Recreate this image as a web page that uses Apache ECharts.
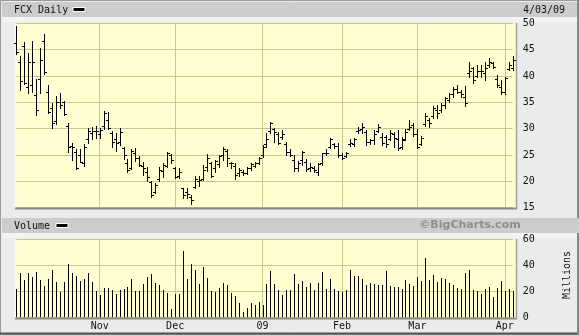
<!DOCTYPE html>
<html><head><meta charset="utf-8">
<script src="https://cdn.jsdelivr.net/npm/echarts@6/dist/echarts.min.js"></script>
<style>html,body{margin:0;padding:0;background:#ebebeb}#c{width:579px;height:335px}</style>
</head><body><div id="c"></div>
<script>
// Trading days shown (Oct 3, 2008 – Apr 3, 2009)
const tradingDays = {
  '2008-10': [3,6,7,8,9,10,13,14,15,16,17,20,21,22,23,24,27,28,29,30,31],
  '2008-11': [3,4,5,6,7,10,11,12,13,14,17,18,19,20,21,24,25,26,28],
  '2008-12': [1,2,3,4,5,8,9,10,11,12,15,16,17,18,19,22,23,24,26,29,30,31],
  '2009-01': [2,5,6,7,8,9,12,13,14,15,16,20,21,22,23,26,27,28,29,30],
  '2009-02': [2,3,4,5,6,9,10,11,12,13,17,18,19,20,23,24,25,26,27],
  '2009-03': [2,3,4,5,6,9,10,11,12,13,16,17,18,19,20,23,24,25,26,27,30,31],
  '2009-04': [1,2,3]
};
const monthLabels = {'2008-11':'Nov','2008-12':'Dec','2009-01':'09','2009-02':'Feb','2009-03':'Mar','2009-04':'Apr'};

const openP  = [46.3,42.7,45.7,38.0,38.3,36.4,39.4,46.7,37.0,34.0,31.5,35.0,35.0,30.5,26.8,25.5,25.0,23.5,28.0,29.1,29.5,
                28.9,30.5,31.6,29.1,28.0,27.5,26.3,23.5,22.5,25.3,24.5,23.0,21.8,19.8,18.0,20.5,22.0,23.0,25.0,
                22.5,21.0,18.7,18.0,17.1,18.9,20.0,20.5,22.8,23.5,22.5,23.3,25.0,25.8,23.5,23.0,21.5,21.8,21.5,22.5,23.0,23.5,
                25.0,27.0,29.5,30.0,29.0,28.5,27.0,25.5,24.1,22.5,24.0,23.7,22.5,22.5,21.8,23.5,25.3,26.5,27.0,26.8,
                25.0,24.8,27.0,27.0,29.5,30.0,29.4,27.5,27.9,29.5,28.5,28.5,28.0,29.0,28.0,26.5,28.0,30.0,30.7,
                29.0,27.0,30.8,31.7,32.4,33.5,33.5,34.5,35.5,36.5,37.5,37.0,36.0,40.5,41.5,40.0,41.0,40.5,42.0,42.5,39.5,38.0,
                37.0,41.3,41.5];
const highP  = [49.5,43.7,46.4,44.3,46.6,39.4,45.3,47.9,38.2,34.8,36.2,36.7,35.3,31.1,27.2,26.1,26.1,27.0,30.1,30.4,30.5,
                30.1,33.4,33.1,29.6,29.1,30.1,26.6,24.2,26.1,26.3,24.8,23.7,22.8,20.1,19.6,22.8,23.5,25.5,25.1,
                22.8,22.5,18.8,18.7,17.4,21.0,21.0,23.1,25.2,23.7,24.1,25.0,26.6,26.1,23.7,23.4,22.5,22.2,22.8,23.4,23.7,24.7,
                26.9,29.1,31.3,30.1,29.3,29.8,27.5,26.1,25.0,23.9,25.8,24.2,23.4,22.9,23.5,25.4,26.1,28.3,27.2,27.2,
                25.4,25.6,28.0,28.2,30.4,31.1,29.8,28.0,29.8,30.9,29.1,28.8,29.8,29.4,29.8,28.4,29.9,31.7,31.1,
                29.9,28.6,32.9,32.0,34.3,34.5,34.8,36.1,36.7,37.9,38.3,37.3,38.1,42.6,41.8,42.1,42.0,42.7,43.4,42.7,40.2,39.2,
                39.9,42.7,43.7];
const lowP   = [44.2,37.3,38.4,36.8,37.0,32.6,36.7,40.4,33.0,30.1,30.9,33.9,32.6,25.6,24.1,22.3,23.7,22.9,27.2,28.0,28.2,
                28.2,29.9,29.9,26.6,25.8,26.9,24.2,21.8,22.3,23.9,22.9,21.2,20.1,17.1,17.7,20.1,20.9,22.8,23.5,
                20.6,20.7,16.9,16.9,15.7,18.7,19.1,20.3,22.0,20.8,21.7,22.8,24.1,22.9,22.5,20.5,21.0,21.2,21.4,22.2,22.8,23.2,
                24.6,26.5,29.1,27.5,27.0,28.0,25.0,24.8,22.0,22.0,23.1,22.0,22.0,21.8,21.2,23.1,25.0,26.3,26.3,24.6,
                24.2,24.7,26.7,26.7,29.1,29.1,26.9,27.0,27.0,29.4,26.9,26.5,27.9,26.6,26.0,26.1,27.9,29.8,28.6,
                26.3,26.9,30.5,30.4,32.0,32.0,33.2,33.9,35.1,36.1,36.7,36.1,34.3,39.9,38.7,39.9,39.8,39.2,41.8,41.5,37.9,36.5,
                36.5,41.1,41.1];
const closeP = [44.6,39.0,38.6,42.7,42.6,33.5,43.0,40.8,33.2,31.0,35.0,34.5,32.7,26.5,26.5,22.5,23.7,26.6,29.5,29.5,29.6,
                29.8,32.9,30.2,27.5,27.2,29.4,25.0,22.2,25.8,24.5,23.1,22.5,20.8,17.4,19.3,22.2,23.1,25.3,24.1,
                20.9,21.8,17.5,17.6,16.5,20.5,20.3,22.2,24.5,21.0,23.8,24.8,26.1,24.4,23.4,21.2,22.2,21.5,22.5,23.2,23.5,24.5,
                26.6,28.0,31.0,29.3,27.2,28.9,25.6,25.0,22.5,23.5,25.5,22.3,22.8,22.1,23.2,25.3,25.4,28.0,26.8,25.0,
                24.4,25.3,27.2,28.0,29.8,30.4,27.5,27.8,29.0,30.4,27.2,27.0,29.1,28.2,26.3,27.9,29.4,30.4,29.0,
                26.6,28.2,32.5,31.0,34.0,33.0,34.5,35.8,36.5,37.5,37.0,36.5,34.8,41.0,39.2,41.0,41.0,41.5,42.7,41.8,38.3,37.0,
                39.6,42.0,43.0];
const volume = [21.8,34.4,28.7,34.4,31.3,34.9,28.7,24.1,29.5,36.4,27.4,19.5,27.4,41.0,33.8,31.8,27.9,29.5,34.4,27.4,20.5,
                17.2,22.8,22.8,21.0,17.9,21.0,21.8,23.6,29.5,20.5,20.5,25.6,31.3,33.3,26.7,24.9,21.0,19.0,6.4,
                17.9,17.9,51.3,29.5,41.0,36.4,25.6,39.0,30.3,20.3,19.7,22.6,26.7,24.9,18.5,16.4,10.8,4.1,7.2,11.3,9.5,12.1,
                9.2,25.6,35.9,25.6,21.0,17.2,21.0,21.0,33.3,25.6,27.9,23.1,26.7,21.0,26.7,34.9,21.8,29.5,21.8,20.5,
                19.7,21.0,36.4,31.8,31.8,29.5,24.9,26.7,26.0,24.9,24.9,35.6,24.1,23.1,23.1,21.8,28.7,25.6,24.1,
                30.8,27.9,45.9,28.7,32.6,27.4,30.0,29.5,26.7,24.9,22.3,21.8,34.4,36.4,21.0,20.3,17.9,21.8,23.1,15.4,22.3,27.9,
                20.3,21.8,20.3];
const priceAxis = {min:15, max:50, step:5};
const volumeAxis = {min:0, max:60, step:20};

// categories and month-start positions
const dates = [];
const monthStart = {};
Object.keys(tradingDays).forEach(function(m){
  tradingDays[m].forEach(function(d,k){
    const idx = dates.length;
    dates.push(m + '-' + String(d).padStart(2,'0'));
    if (k === 0 && monthLabels[m]) monthStart[idx] = monthLabels[m];
  });
});

const FONT = '"DejaVu Sans Mono", monospace';
const GRIDC = '#c8c890';
const YEL = '#ffffd2';
const ohlc = dates.map(function(d,i){ return [i, openP[i], highP[i], lowP[i], closeP[i]]; });
const vol = dates.map(function(d,i){ return [i, volume[i]]; });
const isMonth = function(i){ return monthStart[i] !== undefined; };

function renderOHLC(params, api){
  const i = api.value(0);
  const x = Math.round(api.coord([i, 0])[0]) + 0.5;
  const yo = Math.round(api.coord([i, api.value(1)])[1]) + 0.5;
  const yh = Math.round(api.coord([i, api.value(2)])[1]);
  const yl = Math.round(api.coord([i, api.value(3)])[1]) + 1;
  const yc = Math.round(api.coord([i, api.value(4)])[1]) + 0.5;
  const st = {stroke:'#000', lineWidth:1};
  return {type:'group', children:[
    {type:'line', shape:{x1:x, y1:yh, x2:x, y2:yl}, style:st},
    {type:'line', shape:{x1:x-2.5, y1:yo, x2:x, y2:yo}, style:st},
    {type:'line', shape:{x1:x, y1:yc, x2:x+2.5, y2:yc}, style:st}
  ]};
}
function renderVol(params, api){
  const i = api.value(0);
  const x = Math.round(api.coord([i, 0])[0]) + 0.5;
  const y0 = api.coord([i, 0])[1];
  const y1 = Math.round(api.coord([i, api.value(1)])[1]);
  return {type:'line', shape:{x1:x, y1:y1, x2:x, y2:y0}, style:{stroke:'#000', lineWidth:1}};
}

const chart = echarts.init(document.getElementById('c'), null, {renderer:'canvas', width:579, height:335});
const txt = {fontFamily:FONT, fontSize:10, fill:'#111'};
chart.setOption({
  animation:false,
  backgroundColor:'#ebebeb',
  grid:[
    {left:16.3, right:66.3, top:23.3, height:184.4},
    {left:16.3, right:66.3, top:239.3, height:78}
  ],
  xAxis:[
    {type:'category', gridIndex:0, data:dates, boundaryGap:false,
     axisLine:{show:false}, axisTick:{show:false}, axisLabel:{show:false},
     splitLine:{show:true, interval:isMonth, lineStyle:{color:GRIDC, width:1}}},
    {type:'category', gridIndex:1, data:dates, boundaryGap:false,
     axisLine:{show:false}, axisTick:{show:false},
     axisLabel:{show:true, interval:isMonth, formatter:function(v,i){ return monthStart[i] || ''; },
                margin:4, fontFamily:FONT, fontSize:10, color:'#111'},
     splitLine:{show:true, interval:isMonth, lineStyle:{color:GRIDC, width:1}}}
  ],
  yAxis:[
    {type:'value', gridIndex:0, position:'right', min:priceAxis.min, max:priceAxis.max, interval:priceAxis.step,
     axisLine:{show:false}, axisTick:{show:false},
     axisLabel:{margin:10, fontFamily:FONT, fontSize:10, color:'#111'},
     splitLine:{lineStyle:{color:GRIDC, width:1}}},
    {type:'value', gridIndex:1, position:'right', min:volumeAxis.min, max:volumeAxis.max, interval:volumeAxis.step,
     axisLine:{show:false}, axisTick:{show:false},
     axisLabel:{margin:10, fontFamily:FONT, fontSize:10, color:'#111'},
     splitLine:{lineStyle:{color:GRIDC, width:1}}}
  ],
  series:[
    {type:'custom', xAxisIndex:0, yAxisIndex:0, data:ohlc, renderItem:renderOHLC,
     encode:{x:0, y:[1,2,3,4]}, z:5},
    {type:'custom', xAxisIndex:1, yAxisIndex:1, data:vol, renderItem:renderVol,
     encode:{x:0, y:1}, z:5}
  ],
  graphic:{elements:[
    // frame & header bands
    {type:'rect', z:-20, shape:{x:0.5, y:0.5, width:578, height:334}, style:{fill:'#ebebeb', stroke:'#9a9a9a', lineWidth:1}},
    {type:'line', z:-19, shape:{x1:0, y1:333.5, x2:579, y2:333.5}, style:{stroke:'#555', lineWidth:2}},
    {type:'line', z:-19, shape:{x1:578, y1:0, x2:578, y2:335}, style:{stroke:'#888', lineWidth:2}},
    {type:'rect', z:-18, shape:{x:2, y:2, width:575, height:15}, style:{fill:'#cccccc'}},
    {type:'rect', z:-18, shape:{x:2, y:17, width:575, height:5}, style:{fill:'#f3f3f3'}},
    {type:'rect', z:-18, shape:{x:2, y:218, width:577, height:15}, style:{fill:'#cccccc'}},
    {type:'rect', z:-18, shape:{x:2, y:233, width:575, height:5}, style:{fill:'#f3f3f3'}},
    // plot areas
    {type:'rect', z:-15, shape:{x:15, y:23, width:501, height:185}, style:{fill:YEL}},
    {type:'rect', z:-15, shape:{x:15, y:239, width:501, height:79}, style:{fill:YEL}},
    {type:'line', z:-14, shape:{x1:15, y1:23, x2:15, y2:208}, style:{stroke:'#fafafa', lineWidth:1}},
    {type:'line', z:-14, shape:{x1:15, y1:239, x2:15, y2:318}, style:{stroke:'#fafafa', lineWidth:1}},
    {type:'line', z:20, shape:{x1:15, y1:208.5, x2:517, y2:208.5}, style:{stroke:'#8a8a8a', lineWidth:2}},
    {type:'line', z:20, shape:{x1:516.5, y1:23, x2:516.5, y2:209}, style:{stroke:'#a0a0a0', lineWidth:1.5}},
    {type:'line', z:20, shape:{x1:15, y1:318.5, x2:517, y2:318.5}, style:{stroke:'#8a8a8a', lineWidth:2}},
    {type:'line', z:20, shape:{x1:516.5, y1:239, x2:516.5, y2:319}, style:{stroke:'#a0a0a0', lineWidth:1.5}},
    // header texts
    {type:'text', z:20, x:14, y:10, style:Object.assign({text:'FCX Daily', textVerticalAlign:'middle'}, txt)},
    {type:'rect', z:20, shape:{x:73, y:7.5, width:12, height:4}, style:{fill:'#000', stroke:'#fff', lineWidth:1}},
    {type:'text', z:20, x:523, y:10, style:Object.assign({text:'4/03/09', textVerticalAlign:'middle'}, txt)},
    {type:'text', z:20, x:14, y:226, style:Object.assign({text:'Volume', textVerticalAlign:'middle'}, txt)},
    {type:'rect', z:20, shape:{x:56, y:223.5, width:12, height:4}, style:{fill:'#000', stroke:'#fff', lineWidth:1}},
    {type:'text', z:20, x:470, y:225.5, style:{text:'\u00A9BigCharts.com', textAlign:'center', textVerticalAlign:'middle',
       fontFamily:'"DejaVu Sans", sans-serif', fontWeight:'bold', fontSize:11, fill:'#8e8e8e'}},
    {type:'text', z:20, x:567, y:275, rotation:Math.PI/2, style:Object.assign({text:'Millions', textAlign:'center', textVerticalAlign:'middle'}, txt)}
  ]}
});
</script></body></html>
